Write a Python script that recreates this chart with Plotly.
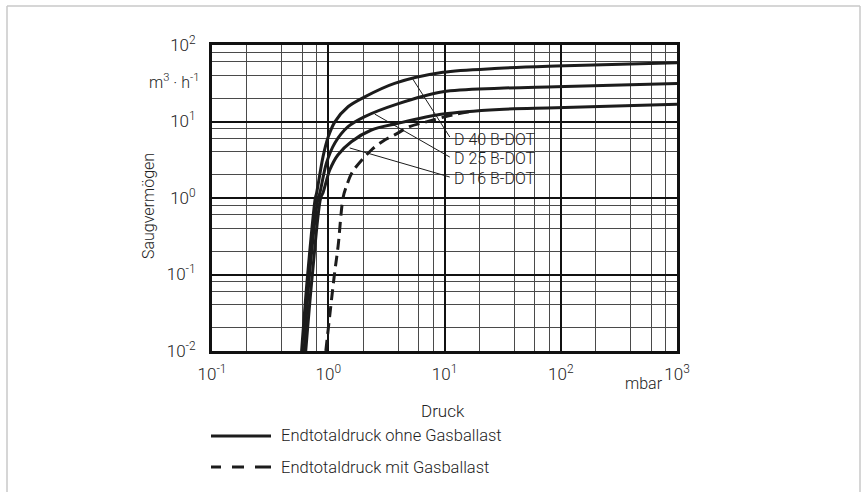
import plotly.graph_objects as go

# ---- data (pressure in mbar, pumping speed in m3/h) ----
p_d40 = [0.59, 0.665, 0.774, 0.793, 0.902, 1.0, 1.14, 1.48, 2.06, 3.72, 9.7, 29.6, 91, 1000]
s_d40 = [0.01, 0.1, 1.0, 1.15, 3.47, 6.3, 9.9, 15.6, 21.0, 31.5, 44.0, 49.6, 53.0, 58.8]

p_d25 = [0.62, 0.69, 0.818, 0.846, 0.965, 1.14, 1.48, 2.06, 3.9, 9.7, 29.6, 91, 1000]
s_d25 = [0.01, 0.1, 1.0, 1.16, 2.87, 5.24, 8.55, 11.6, 16.9, 24.5, 27.2, 28.5, 31.5]

p_d16 = [0.64, 0.73, 0.86, 0.90, 1.03, 1.21, 1.58, 2.35, 3.9, 9.7, 29.6, 91, 1000]
s_d16 = [0.01, 0.1, 1.0, 1.16, 2.32, 3.65, 5.44, 7.74, 9.4, 12.5, 14.4, 15.1, 16.8]

p_gas = [0.953, 1.13, 1.216, 1.34, 1.43, 1.62, 2.35, 3.06, 3.72, 5.0, 6.97, 11.8, 16.4]
s_gas = [0.01, 0.1, 0.236, 1.0, 1.41, 2.21, 4.24, 5.73, 6.67, 8.55, 9.9, 12.2, 13.4]

# leader lines: (curve point) -> (label)
leader_p = [[5.33, 11.1], [2.51, 11.1], [1.53, 11.1]]
leader_s = [[36.0, 6.27], [12.5, 3.43], [4.51, 1.88]]
curve_labels = ["D 40 B-DOT", "D 25 B-DOT", "D 16 B-DOT"]

x_tickvals = [0.1, 1, 10, 100, 1000]
x_ticktext = ["10<sup>-1</sup>", "10<sup>0</sup>", "10<sup>1</sup>", "10<sup>2</sup>", "10<sup>3</sup>"]
y_tickvals = [0.01, 0.1, 1, 10, 100]
y_ticktext = ["10<sup>-2</sup>", "10<sup>-1</sup>", "10<sup>0</sup>", "10<sup>1</sup>", "10<sup>2</sup>"]
minor_x = [m * 10 ** k for k in range(-1, 3) for m in (2, 4, 6, 8)]
minor_y = [m * 10 ** k for k in range(-2, 2) for m in (2, 4, 6, 8)]

legend_texts = ["Endtotaldruck ohne Gasballast", "Endtotaldruck mit Gasballast"]

FONT = "Roboto, Liberation Sans, Arial, sans-serif"
FW = 300
TXT = "#222222"
LINE = "#1c1c1c"

fig = go.Figure()
for px_, sy_ in ((p_d40, s_d40), (p_d25, s_d25), (p_d16, s_d16)):
    fig.add_trace(go.Scatter(x=px_, y=sy_, mode="lines",
                             line=dict(color=LINE, width=3, shape="spline", smoothing=0.9),
                             hoverinfo="skip", showlegend=False))
fig.add_trace(go.Scatter(x=p_gas, y=s_gas, mode="lines",
                         line=dict(color=LINE, width=3, shape="spline", smoothing=0.9,
                                   dash="11px,6px"),
                         hoverinfo="skip", showlegend=False))
for lp, ls in zip(leader_p, leader_s):
    fig.add_trace(go.Scatter(x=lp, y=ls, mode="lines", line=dict(color=LINE, width=1),
                             hoverinfo="skip", showlegend=False))

W, H = 861, 492
L, R, T, B = 212, 184, 45, 141
pw, ph = W - L - R, H - T - B


def px(xp):
    return (xp - L) / pw


def py(yp):
    return (H - B - yp) / ph


shapes = [
    # white label box between the grid and the traces
    dict(type="rect", xref="paper", yref="paper", x0=0.5 + 1.5 / pw, x1=0.75 - 1.5 / pw,
         y0=0.5 + 1.5 / ph, y1=0.75 - 1.5 / ph, fillcolor="white", line=dict(width=0),
         layer="between"),
    # outer light frame
    dict(type="line", xref="paper", yref="paper", x0=px(7), x1=px(860), y0=py(6), y1=py(6),
         line=dict(color="#c8c8c8", width=1.5)),
    dict(type="line", xref="paper", yref="paper", x0=px(7), x1=px(7), y0=py(6), y1=py(500),
         line=dict(color="#c8c8c8", width=1.5)),
    dict(type="line", xref="paper", yref="paper", x0=px(860), x1=px(860), y0=py(6), y1=py(500),
         line=dict(color="#c8c8c8", width=1.5)),
    # legend samples
    dict(type="line", xref="paper", yref="paper", x0=px(211), x1=px(271), y0=py(436), y1=py(436),
         line=dict(color=LINE, width=3)),
    dict(type="line", xref="paper", yref="paper", x0=px(211), x1=px(271), y0=py(467), y1=py(467),
         line=dict(color=LINE, width=3, dash="10px,11px,12px,11px,16px,20px")),
]


def tfont(size):
    return dict(size=size, color=TXT, family=FONT, weight=FW)


annotations = []
for txt, yc in zip(curve_labels, (139.5, 158.5, 178.5)):
    annotations.append(dict(text=txt, xref="paper", yref="paper", x=px(452), y=py(yc),
                            xanchor="left", yanchor="middle", showarrow=False, font=tfont(16)))
for txt, yc in zip(legend_texts, (436, 467)):
    annotations.append(dict(text=txt, xref="paper", yref="paper", x=px(279), y=py(yc),
                            xanchor="left", yanchor="middle", showarrow=False, font=tfont(16.5)))
annotations += [
    dict(text="Druck", xref="paper", yref="paper", x=px(442.5), y=py(411), xanchor="center",
         yanchor="middle", showarrow=False, font=tfont(17)),
    dict(text="mbar", xref="paper", yref="paper", x=px(665), y=py(383), xanchor="right",
         yanchor="middle", showarrow=False, font=tfont(16)),
    dict(text="m<sup>3</sup> · h<sup>-1</sup>", xref="paper", yref="paper", x=px(201), y=py(81),
         xanchor="right", yanchor="middle", showarrow=False, font=tfont(16)),
    dict(text="Saugvermögen", xref="paper", yref="paper", x=px(148), y=py(206), xanchor="center",
         yanchor="middle", textangle=-90, showarrow=False, font=tfont(16)),
]

axis_common = dict(type="log", showgrid=True, gridcolor="#111111", gridwidth=2,
                   showline=True, linecolor="#111111", linewidth=3, mirror=True,
                   ticks="", zeroline=False, tickfont=tfont(17))

fig.update_layout(
    width=W, height=H, margin=dict(l=L, r=R, t=T, b=B, pad=0),
    paper_bgcolor="white", plot_bgcolor="white", showlegend=False,
    xaxis=dict(range=[-1, 3], tickmode="array", tickvals=x_tickvals, ticktext=x_ticktext,
               ticklabelstandoff=6,
               minor=dict(tickmode="array", tickvals=minor_x, showgrid=True,
                          gridcolor="#4a4a4a", gridwidth=1, ticks=""),
               **axis_common),
    yaxis=dict(range=[-2, 2], tickmode="array", tickvals=y_tickvals, ticktext=y_ticktext,
               ticklabelstandoff=10,
               minor=dict(tickmode="array", tickvals=minor_y, showgrid=True,
                          gridcolor="#4a4a4a", gridwidth=1, ticks=""),
               **axis_common),
    shapes=shapes, annotations=annotations,
)

fig.write_html("out.html", config={"displayModeBar": False},
               post_script="document.body.style.margin='0';")
